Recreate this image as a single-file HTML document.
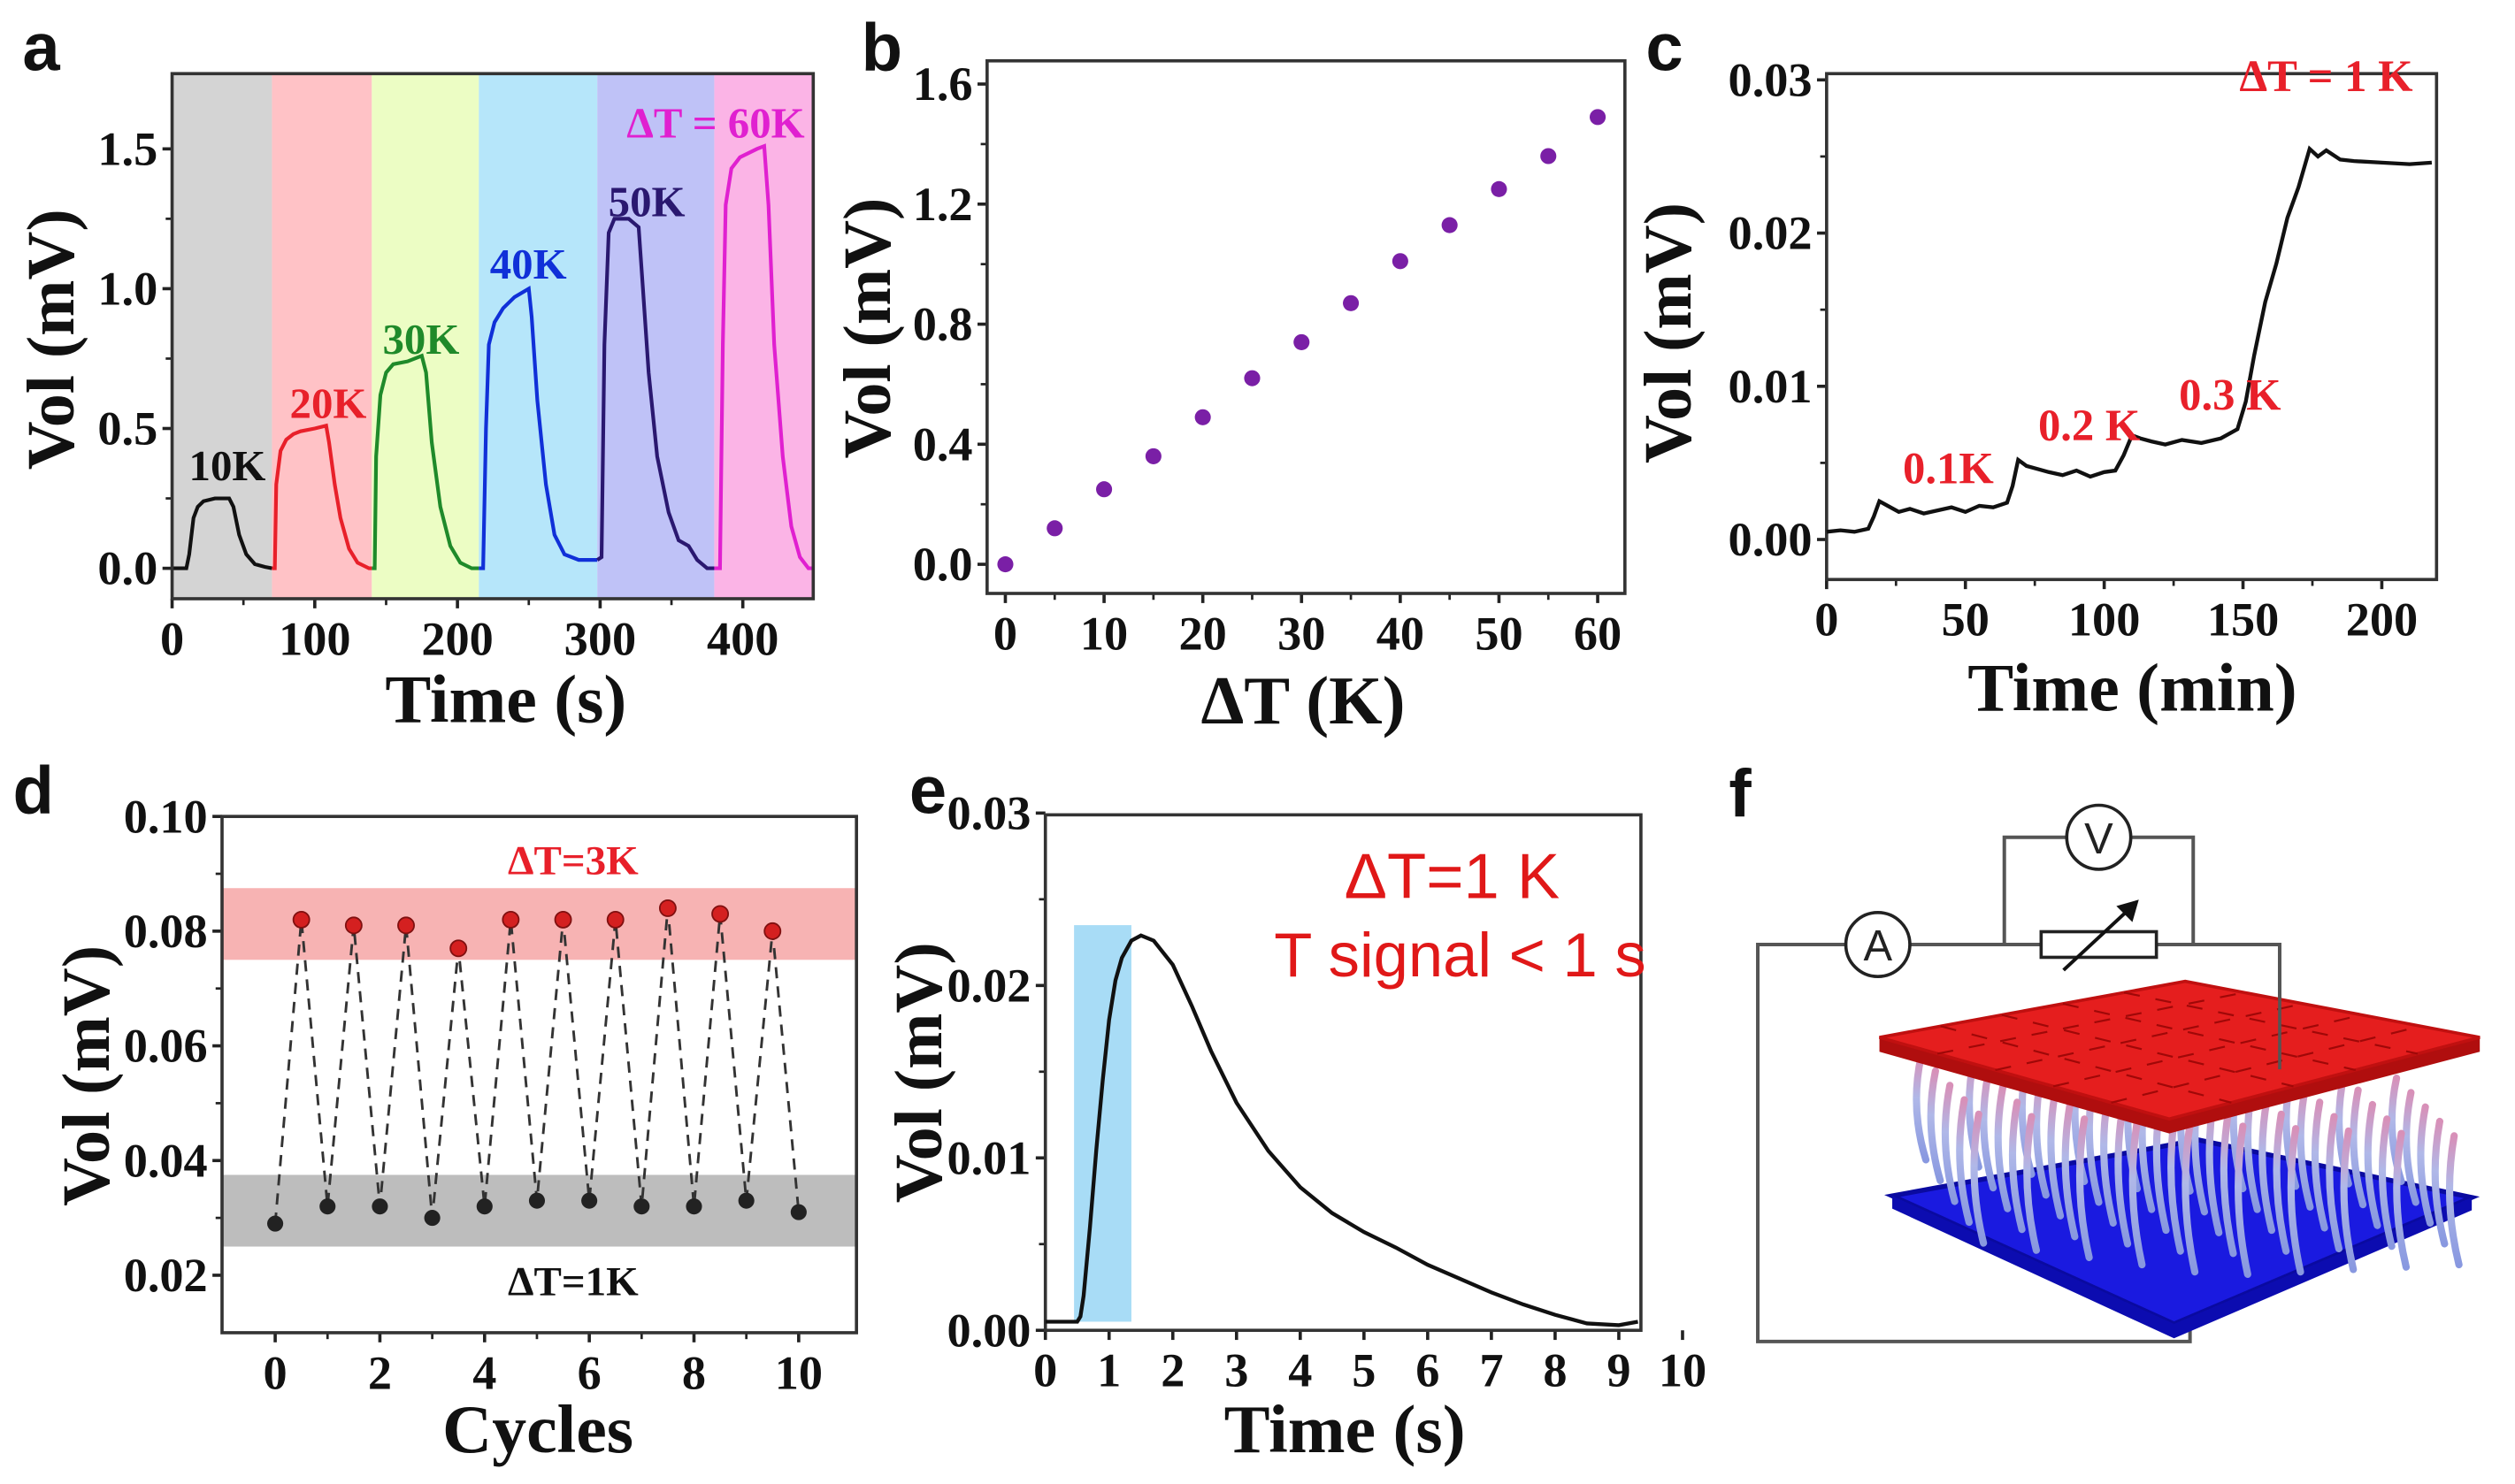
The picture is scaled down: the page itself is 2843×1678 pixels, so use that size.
<!DOCTYPE html>
<html><head><meta charset="utf-8"><style>
html,body{margin:0;padding:0;background:#fff;}
svg{display:block;}
text{font-family:"Liberation Serif",serif;font-weight:bold;}
.sans{font-family:"Liberation Sans",sans-serif;}
</style></head><body>
<svg id="fig" width="2843" height="1678" viewBox="0 0 1571 927" preserveAspectRatio="none" xmlns="http://www.w3.org/2000/svg">
<rect x="0" y="0" width="1571" height="927" fill="#fff"/>
<g id="root"></g>
</svg>
<script>
// ---------- Panel a data ----------
const aBandStarts=[0,70,140,215,298,380];
const aBandEnds=[70,140,215,298,380,450];
const a10T=[0,10,12,15,18,22,30,40,43,47,52,58,65,70];
const a10V=[0,0,0.05,0.18,0.22,0.24,0.25,0.25,0.22,0.12,0.05,0.015,0.005,0];
const a20T=[70,72,73,76,80,85,90,100,108,110,114,118,124,130,138,140];
const a20V=[0,0,0.3,0.42,0.46,0.48,0.49,0.5,0.51,0.45,0.3,0.18,0.07,0.02,0,0];
const a30T=[140,142,143,146,150,155,165,175,178,182,188,195,202,210,215];
const a30V=[0,0,0.4,0.62,0.7,0.73,0.74,0.76,0.7,0.45,0.22,0.08,0.02,0,0];
const a40T=[215,218,220,222,226,232,240,250,252,256,262,268,275,285,298];
const a40V=[0,0,0.5,0.8,0.88,0.93,0.97,1.0,0.9,0.6,0.3,0.12,0.05,0.03,0.03];
const a50T=[298,301,303,306,310,320,327,330,334,340,348,355,362,368,375,380];
const a50V=[0.03,0.04,0.8,1.2,1.25,1.25,1.22,1.0,0.7,0.4,0.2,0.1,0.08,0.03,0,0];
const a60T=[380,384,386,388,392,398,410,415,418,422,428,434,440,446,450];
const a60V=[0,0,0.8,1.3,1.43,1.47,1.5,1.51,1.3,0.8,0.4,0.15,0.04,0,0];
const aXTicks=[0,100,200,300,400];
const aYTicks=[0,0.5,1.0,1.5];
const aYTickLabels=["0.0","0.5","1.0","1.5"];
// ---------- Panel b data ----------
const bDT=[0,5,10,15,20,25,30,35,40,45,50,55,60];
const bV=[0.0,0.12,0.25,0.36,0.49,0.62,0.74,0.87,1.01,1.13,1.25,1.36,1.49];
const bXTicks=[0,10,20,30,40,50,60];
const bYTicks=[0,0.4,0.8,1.2,1.6];
const bYTickLabels=["0.0","0.4","0.8","1.2","1.6"];
// ---------- Panel c data ----------
const cT=[0,5,10,15,17,19,22,26,30,35,40,45,50,55,60,65,67,69,72,76,80,85,90,95,100,104,107,110,113,117,122,128,135,142,148,151,154,158,162,166,170,174,177,180,185,190,200,210,218];
const cV=[0.0005,0.0006,0.0005,0.0007,0.0015,0.0025,0.0022,0.0018,0.002,0.0017,0.0019,0.0021,0.0018,0.0022,0.0021,0.0024,0.0035,0.0052,0.0048,0.0046,0.0044,0.0042,0.0045,0.0041,0.0044,0.0045,0.0055,0.0068,0.0066,0.0064,0.0062,0.0065,0.0063,0.0066,0.0072,0.009,0.012,0.0155,0.018,0.021,0.023,0.0255,0.025,0.0254,0.0248,0.0247,0.0246,0.0245,0.0246];
const cXTicks=[0,50,100,150,200];
const cYTicks=[0,0.01,0.02,0.03];
const cYTickLabels=["0.00","0.01","0.02","0.03"];
// ---------- Panel d data ----------
const dHighX=[0.5,1.5,2.5,3.5,4.5,5.5,6.5,7.5,8.5,9.5];
const dHighV=[0.082,0.081,0.081,0.077,0.082,0.082,0.082,0.084,0.083,0.080];
const dLowX=[0,1,2,3,4,5,6,7,8,9,10];
const dLowV=[0.029,0.032,0.032,0.030,0.032,0.033,0.033,0.032,0.032,0.033,0.031];
const dHighBand=[0.075,0.0875];
const dLowBand=[0.025,0.0375];
const dXTicks=[0,2,4,6,8,10];
const dYTicks=[0.02,0.04,0.06,0.08,0.10];
const dYTickLabels=["0.02","0.04","0.06","0.08","0.10"];
// ---------- Panel e data ----------
const eT=[0,0.3,0.5,0.55,0.6,0.7,0.8,0.9,1.0,1.1,1.2,1.35,1.5,1.7,2.0,2.3,2.6,3.0,3.5,4.0,4.5,5.0,5.5,6.0,6.5,7.0,7.5,8.0,8.5,9.0,9.3];
const eV=[0.0005,0.0005,0.0005,0.0008,0.002,0.006,0.0105,0.0145,0.018,0.0203,0.0216,0.0226,0.0229,0.0226,0.0212,0.0188,0.0162,0.0132,0.0104,0.0083,0.0068,0.0057,0.0048,0.0038,0.003,0.0022,0.0015,0.0009,0.0004,0.0003,0.0005];
const eShade=[0.45,1.35,0.0235];
const eXTicks=[0,1,2,3,4,5,6,7,8,9,10];
const eYTicks=[0,0.01,0.02,0.03];
const eYTickLabels=["0.00","0.01","0.02","0.03"];

const NS="http://www.w3.org/2000/svg";
const root=document.getElementById('root');
const TF=30;
function mk(tag,attrs,parent){const e=document.createElementNS(NS,tag);for(const k in attrs)e.setAttribute(k,attrs[k]);(parent||root).appendChild(e);return e;}
function txt(s,attrs,parent){const e=mk('text',attrs,parent);e.textContent=s;return e;}
function lin(d0,d1,r0,r1){return v=>r0+(v-d0)*(r1-r0)/(d1-d0);}
function pathD(xs,ys,sx,sy){return xs.map((x,i)=>(i?'L':'M')+sx(x).toFixed(2)+','+sy(ys[i]).toFixed(2)).join('');}

function axes(g,box,sx,sy,xt,xl,yt,yl,fs,minorX,minorY){
  for(let i=0;i<xt.length;i++){const x=sx(xt[i]);
    const t=mk('line',{x1:x,x2:x,y1:box.b,y2:box.b+6,stroke:'#222','stroke-width':2},g);
    
    const l=txt(xl[i],{x:x,y:box.b+35,'text-anchor':'middle','font-size':fs,fill:'#111'},g);
    }
  for(let i=0;i<yt.length;i++){const y=sy(yt[i]);
    const t=mk('line',{x1:box.l-6,x2:box.l,y1:y,y2:y,stroke:'#222','stroke-width':2},g);
    
    const l=txt(yl[i],{x:box.l-9,y:y+10,'text-anchor':'end','font-size':fs,fill:'#111'},g);
    }
  (minorX||[]).forEach(v=>{const x=sx(v);mk('line',{x1:x,x2:x,y1:box.b,y2:box.b+4,stroke:'#222','stroke-width':1.5},g);});
  (minorY||[]).forEach(v=>{const y=sy(v);mk('line',{x1:box.l-4,x2:box.l,y1:y,y2:y,stroke:'#222','stroke-width':1.5},g);});
  const fr=mk('rect',{x:box.l,y:box.t,width:box.r-box.l,height:box.b-box.t,fill:'none',stroke:'#333','stroke-width':2},g);
  
}
function mids(t){const o=[];for(let i=0;i<t.length-1;i++)o.push((t[i]+t[i+1])/2);return o;}

// ===== Panel a =====
(function(){
const g=mk('g',{});
const box={l:107.5,r:508,t:46,b:374};
const sx=lin(0,400,107.5,464), sy=lin(0,1.5,355,93);
const bandCols=['#d4d4d4','#ffc2c6','#ecfdc4','#b6e6fa','#bfc2f7','#fbb4e6'];
aBandStarts.forEach((s,i)=>{const r=mk('rect',{x:sx(s),y:box.t,width:sx(aBandEnds[i])-sx(s),height:box.b-box.t,fill:bandCols[i]},g);
  });
const segs=[[a10T,a10V,'#111'],[a20T,a20V,'#e8202a'],[a30T,a30V,'#1f8a2a'],[a40T,a40V,'#1030d8'],[a50T,a50V,'#2a1870'],[a60T,a60V,'#e020d0']];
segs.forEach(s=>{const p=mk('path',{d:pathD(s[0],s[1],sx,sy),fill:'none',stroke:s[2],'stroke-width':2.3},g);
  });
axes(g,box,sx,sy,aXTicks,aXTicks.map(String),aYTicks,aYTickLabels,TF,mids(aXTicks),mids(aYTicks));
const labs=[['10K',142,300,'#111'],['20K',205,261,'#e8202a'],['30K',263,221,'#1f8a2a'],['40K',330,174,'#1030d8'],['50K',404,135,'#2a1870'],['ΔT = 60K',447,86,'#e020d0']];
labs.forEach(l=>{const t=txt(l[0],{x:l[1],y:l[2],'text-anchor':'middle','font-size':27,fill:l[3]},g);});
const yt=txt('Vol (mV)',{x:0,y:0,transform:'translate(46,212) rotate(-90)','text-anchor':'middle','font-size':42,fill:'#111'},g);
const xt=txt('Time (s)',{x:316,y:451,'text-anchor':'middle','font-size':43,fill:'#111'},g);
const pl=txt('a',{x:14,y:44,'font-size':42,fill:'#111',class:'sans'},g);
})();

// ===== Panel b =====
(function(){
const g=mk('g',{});
const box={l:616.6,r:1015,t:38,b:370.7};
const sx=lin(0,60,628,998), sy=lin(0,0.4,352.5,277.5);
axes(g,box,sx,sy,bXTicks,bXTicks.map(String),bYTicks,bYTickLabels,TF,mids(bXTicks),mids(bYTicks));
bDT.forEach((x,i)=>{const c=mk('circle',{cx:sx(x),cy:sy(bV[i]),r:5,fill:'#7a1fa6'},g);});
const yt=txt('Vol (mV)',{x:0,y:0,transform:'translate(556,205) rotate(-90)','text-anchor':'middle','font-size':42,fill:'#111'},g);
const xt=txt('ΔT (K)',{x:814,y:452,'text-anchor':'middle','font-size':43,fill:'#111'},g);
const pl=txt('b',{x:538,y:44,'font-size':42,fill:'#111',class:'sans'},g);
})();

// ===== Panel c =====
(function(){
const g=mk('g',{});
const box={l:1141,r:1522,t:46,b:362};
const sx=lin(0,50,1141,1227.7), sy=lin(0,0.01,337,241.3);
axes(g,box,sx,sy,cXTicks,cXTicks.map(String),cYTicks,cYTickLabels,TF,mids(cXTicks),mids(cYTicks));
const p=mk('path',{d:pathD(cT,cV,sx,sy),fill:'none',stroke:'#111','stroke-width':2.4},g);
const labs=[['0.1K',1217,302],['0.2 K',1305,275],['0.3 K',1393,256],['ΔT = 1 K',1453,57]];
labs.forEach(l=>{const t=txt(l[0],{x:l[1],y:l[2],'text-anchor':'middle','font-size':28,fill:'#e8202a'},g);});
const yt=txt('Vol (mV)',{x:0,y:0,transform:'translate(1056,208) rotate(-90)','text-anchor':'middle','font-size':42,fill:'#111'},g);
const xt=txt('Time (min)',{x:1332,y:444,'text-anchor':'middle','font-size':43,fill:'#111'},g);
const pl=txt('c',{x:1028,y:44,'font-size':42,fill:'#111',class:'sans'},g);
})();

// ===== Panel d =====
(function(){
const g=mk('g',{});
const box={l:138.7,r:535,t:510,b:832.5};
const sx=lin(0,2,171.9,237.3), sy=lin(0.02,0.04,796.6,724.95);
const hb=mk('rect',{x:box.l,y:sy(dHighBand[1]),width:box.r-box.l,height:sy(dHighBand[0])-sy(dHighBand[1]),fill:'#f7b3b3'},g);
const lb=mk('rect',{x:box.l,y:sy(dLowBand[1]),width:box.r-box.l,height:sy(dLowBand[0])-sy(dLowBand[1]),fill:'#bdbdbd'},g);
const xs=[],ys=[];
for(let i=0;i<dLowX.length;i++){xs.push(dLowX[i]);ys.push(dLowV[i]);if(i<dHighX.length){xs.push(dHighX[i]);ys.push(dHighV[i]);}}
const dl=mk('path',{d:pathD(xs,ys,sx,sy),fill:'none',stroke:'#333','stroke-width':1.6,'stroke-dasharray':'7,5'},g);
axes(g,box,sx,sy,dXTicks,dXTicks.map(String),dYTicks,dYTickLabels,TF,[1,3,5,7,9],mids(dYTicks));
dHighX.forEach((x,i)=>{const c=mk('circle',{cx:sx(x),cy:sy(dHighV[i]),r:5,fill:'#d42020',stroke:'#801010','stroke-width':1},g);});
dLowX.forEach((x,i)=>{const c=mk('circle',{cx:sx(x),cy:sy(dLowV[i]),r:5,fill:'#222'},g);});
const t1=txt('ΔT=3K',{x:358,y:546,'text-anchor':'middle','font-size':26,fill:'#e8202a'},g);
const t2=txt('ΔT=1K',{x:358,y:809,'text-anchor':'middle','font-size':26,fill:'#111'},g);
const yt=txt('Vol (mV)',{x:0,y:0,transform:'translate(68,672) rotate(-90)','text-anchor':'middle','font-size':42,fill:'#111'},g);
const xt=txt('Cycles',{x:336,y:907,'text-anchor':'middle','font-size':43,fill:'#111'},g);
const pl=txt('d',{x:8,y:508,'font-size':42,fill:'#111',class:'sans'},g);
})();

// ===== Panel e =====
(function(){
const g=mk('g',{});
const box={l:653,r:1025,t:509,b:831};
const sx=lin(0,1,653,692.8), sy=lin(0,0.01,831,723.3);
const sh=mk('rect',{x:sx(eShade[0]),y:sy(eShade[2]),width:sx(eShade[1])-sx(eShade[0]),height:sy(0.0005)-sy(eShade[2]),fill:'#a8dcf6'},g);
axes(g,box,sx,sy,eXTicks,eXTicks.map(String),eYTicks,eYTickLabels,TF,[],mids(eYTicks));
const p=mk('path',{d:pathD(eT,eV,sx,sy),fill:'none',stroke:'#111','stroke-width':2.4},g);
const t1=txt('ΔT=1 K',{x:907,y:561,'text-anchor':'middle','font-size':40,fill:'#e01818',class:'sans'},g);
const t2=txt('T signal < 1 s',{x:912,y:610,'text-anchor':'middle','font-size':39,fill:'#e01818',class:'sans'},g);
t1.style.fontWeight='normal';t2.style.fontWeight='normal';
const yt=txt('Vol (mV)',{x:0,y:0,transform:'translate(588,670) rotate(-90)','text-anchor':'middle','font-size':42,fill:'#111'},g);
const xt=txt('Time (s)',{x:840,y:907,'text-anchor':'middle','font-size':43,fill:'#111'},g);
const pl=txt('e',{x:568,y:508,'font-size':42,fill:'#111',class:'sans'},g);
})();

// ===== Panel f (schematic) =====
(function(){
const g=mk('g',{});
const pl=txt('f',{x:1080,y:510,'font-size':42,fill:'#111',class:'sans'},g);
const w={fill:'none',stroke:'#555','stroke-width':2.2};
const c1=mk('path',Object.assign({d:'M1368,827 L1368,838 L1098,838 L1098,590 L1424,590 L1424,660'},w),g);
const c2=mk('path',Object.assign({d:'M1252,590 L1252,523 L1370,523 L1370,590'},w),g);
const a=mk('circle',{cx:1173,cy:590,r:20,fill:'#fff',stroke:'#222','stroke-width':2},g);
const at=txt('A',{x:1173,y:600,'text-anchor':'middle','font-size':27,fill:'#222',class:'sans'},g);at.style.fontWeight='normal';

const v=mk('circle',{cx:1311,cy:523,r:20,fill:'#fff',stroke:'#222','stroke-width':2},g);
const vt=txt('V',{x:1311,y:533,'text-anchor':'middle','font-size':27,fill:'#222',class:'sans'},g);vt.style.fontWeight='normal';

const rs=mk('rect',{x:1275,y:582,width:72,height:16,fill:'#fff',stroke:'#222','stroke-width':2},g);
mk('line',{x1:1289,y1:606,x2:1331,y2:567,stroke:'#111','stroke-width':2.2},g);
mk('path',{d:'M1336,562 L1322,566 L1332,576 Z',fill:'#111'},g);
// blue bottom plate
const bp=mk('path',{d:'M1182,747 L1373,712 L1544,748 L1358,827 Z',fill:'#1a1ae0',stroke:'#0a0aa0','stroke-width':3},g);
mk('path',{d:'M1182,747 L1358,827 L1544,748 L1544,756 L1358,836 L1182,755 Z',fill:'#0c0cb0'},g);
// fibers
const defs=mk('defs',{},g);
const lg=mk('linearGradient',{id:'fib',x1:0,y1:0,x2:0,y2:1},defs);
mk('stop',{offset:'0','stop-color':'#d890b8'},lg);
mk('stop',{offset:'0.4','stop-color':'#b0b8e8'},lg);
mk('stop',{offset:'1','stop-color':'#8898e0'},lg);
for(let r=0;r<5;r++){for(let c=0;c<10;c++){
  const tx=1200+c*33+r*9, ty=660+r*9+c*1.5;
  const bx=tx+3, by=ty+78+r*4-Math.abs(c-4.5)*3;
  const f=mk('path',{d:`M${tx},${ty} Q${tx-7},${(ty+by)/2} ${bx},${by}`,fill:'none',stroke:'url(#fib)','stroke-width':4.5,'stroke-linecap':'round'},g);
  
  }}
// red top plate
mk('path',{d:'M1174,648 L1355,699 L1549,648 L1549,657 L1355,708 L1174,657 Z',fill:'#b00e0e'},g);
const rp=mk('path',{d:'M1174,648 L1365,613 L1549,648 L1355,699 Z',fill:'#e51e1e',stroke:'#c01010','stroke-width':2},g);
for(let i=1;i<5;i++){const t=i/5;
  mk('line',{x1:1174+(1365-1174)*t,y1:648+(613-648)*t,x2:1355+(1549-1355)*t,y2:699+(648-699)*t,stroke:'#a00808','stroke-width':1.2,'stroke-dasharray':'10,10'},g);
  mk('line',{x1:1174+(1355-1174)*t,y1:648+(699-648)*t,x2:1365+(1549-1365)*t,y2:613+(648-613)*t,stroke:'#a00808','stroke-width':1.2,'stroke-dasharray':'10,10'},g);}
mk('line',{x1:1424,y1:590,x2:1424,y2:668,stroke:'#555','stroke-width':2},g);
})();
</script>
</body></html>
